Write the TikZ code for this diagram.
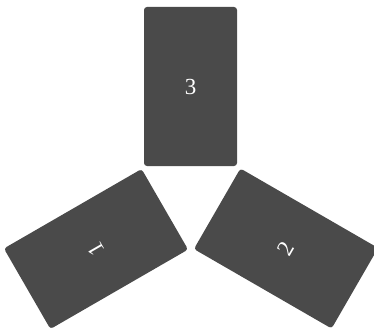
\documentclass[tikz,border=0pt]{standalone}
\usepackage{fontspec}
\setmainfont{Liberation Serif}
\definecolor{cardgray}{RGB}{74,74,74}
\begin{document}
\begin{tikzpicture}[x=1pt,y=1pt,
  card/.style={draw=none,fill=cardgray,rounded corners=3pt,
    minimum width=93pt,minimum height=159pt,inner sep=0pt,
    text=white,font=\fontsize{23}{26}\selectfont}]
\useasboundingbox (0,0) rectangle (374,327);
\clip (0,0) rectangle (374,327);
\node[card] (c3) at (190.5,240.5) {3};
\node[card,rotate=120] (c1) at (96,78) {1};
\node[card,rotate=60] (c2) at (286,78.5) {2};
\end{tikzpicture}
\end{document}
